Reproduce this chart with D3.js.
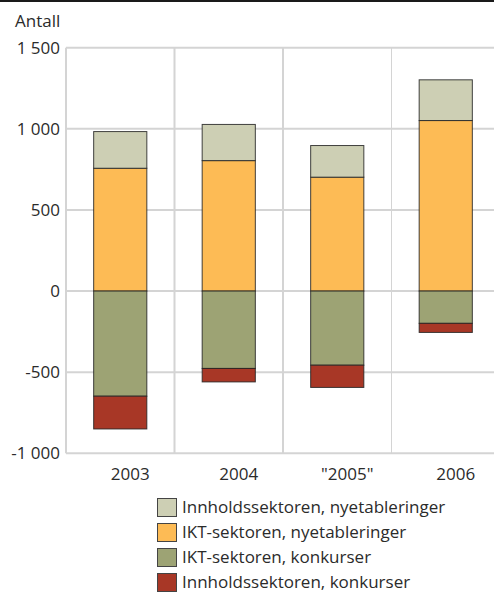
<!DOCTYPE html>
<html>
<head>
<meta charset="utf-8">
<script src="https://cdn.jsdelivr.net/npm/d3@7"></script>
<style>
  html, body { margin: 0; padding: 0; background: #fff; }
  svg { display: block; font-family: "Open Sans", "DejaVu Sans", sans-serif; }
</style>
</head>
<body>
<div id="chart"></div>
<script>
const years = ["2003", "2004", "\"2005\"", "2006"];
const innholdNy = [226, 223, 195, 251];
const iktNy = [757, 804, 702, 1051];
const iktKonk = [-648, -477, -457, -199];
const innholdKonk = [-202, -83, -137, -56];
const yTicks = [-1000, -500, 0, 500, 1000, 1500];
const yTickLabels = ["-1 000", "-500", "0", "500", "1 000", "1 500"];

// legend order
const series = [
  { name: "Innholdssektoren, nyetableringer", values: innholdNy, color: "#cdcfb4" },
  { name: "IKT-sektoren, nyetableringer", values: iktNy, color: "#fdbb55" },
  { name: "IKT-sektoren, konkurser", values: iktKonk, color: "#9da374" },
  { name: "Innholdssektoren, konkurser", values: innholdKonk, color: "#a83726" }
];
// stacking order, from zero outwards
const stackOrder = [series[1], series[0], series[2], series[3]];

const W = 494, H = 593, FS = 17, INK = "#2b2b2b";
const svg = d3.select("#chart").append("svg").attr("width", W).attr("height", H);

// top rule
svg.append("rect").attr("x", 0).attr("y", 0).attr("width", W).attr("height", 2).attr("fill", "#1a1a1a");

svg.append("text").attr("x", 15).attr("y", 27).attr("font-size", FS).attr("fill", INK).text("Antall");

const x = d3.scaleBand().domain(years).range([66, 500]).paddingInner(0.51).paddingOuter(0.255);
const y = d3.scaleLinear().domain([-1000, 1500]).range([453.3, 47.7]);

const grid = svg.append("g");
grid.selectAll(".hg").data(yTicks).join("line").attr("class", "hg")
  .attr("x1", 66).attr("x2", W).attr("y1", d => y(d)).attr("y2", d => y(d))
  .attr("stroke", "#d4d4d4").attr("stroke-width", 2);
const step = x.step();
const vlines = [0, 1, 2, 3].map(i => 66 + i * step);
grid.selectAll(".vg").data(vlines).join("line").attr("class", "vg")
  .attr("x1", d => d).attr("x2", d => d).attr("y1", y(1500)).attr("y2", y(-1000))
  .attr("stroke", "#d4d4d4").attr("stroke-width", (d, i) => i === 3 ? 1 : 2);

// y labels
svg.selectAll(".yl").data(yTicks).join("text").attr("class", "yl")
  .attr("x", 60).attr("y", d => y(d)).attr("dy", "0.35em").attr("text-anchor", "end")
  .attr("font-size", FS).attr("fill", INK).text((d, i) => yTickLabels[i]);

// x labels
svg.selectAll(".xl").data(years).join("text").attr("class", "xl")
  .attr("x", d => x(d) + x.bandwidth() / 2 + 10).attr("y", 480).attr("text-anchor", "middle")
  .attr("font-size", FS).attr("fill", INK).text(d => d);

// stacked bars
const segs = [];
years.forEach((yr, i) => {
  let pos = 0, neg = 0;
  stackOrder.forEach(s => {
    const v = s.values[i];
    if (v >= 0) { segs.push({ yr, y0: pos, y1: pos + v, color: s.color }); pos += v; }
    else { segs.push({ yr, y0: neg + v, y1: neg, color: s.color }); neg += v; }
  });
});
svg.append("g").selectAll("rect").data(segs).join("rect")
  .attr("x", d => x(d.yr)).attr("width", x.bandwidth())
  .attr("y", d => y(d.y1)).attr("height", d => y(d.y0) - y(d.y1))
  .attr("fill", d => d.color).attr("stroke", "#222").attr("stroke-opacity", 0.85).attr("stroke-width", 1);

// legend
const lg = svg.append("g").attr("transform", "translate(157,498)");
const li = lg.selectAll("g").data(series).join("g").attr("transform", (d, i) => `translate(0,${i * 25})`);
li.append("rect").attr("x", 0.5).attr("y", 0.5).attr("width", 19).attr("height", 18)
  .attr("fill", d => d.color).attr("stroke", "#444").attr("stroke-width", 1);
li.append("text").attr("x", 25).attr("y", 9.5).attr("dy", "0.35em").attr("font-size", FS)
  .attr("fill", INK).text(d => d.name);
</script>
</body>
</html>
